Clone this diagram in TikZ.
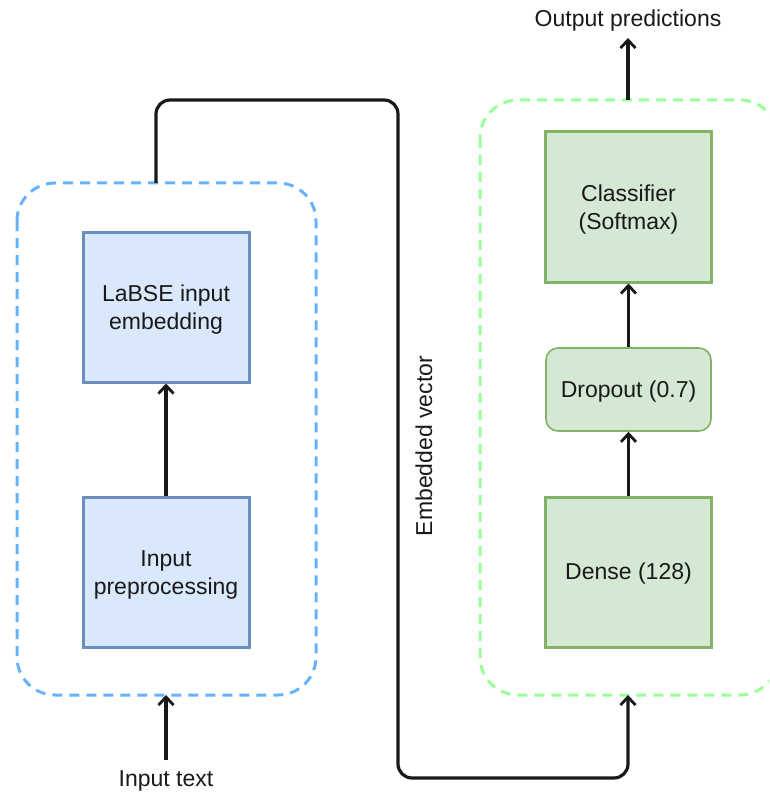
\documentclass[tikz,border=0pt]{standalone}
\usepackage{fontspec}
\setmainfont{Liberation Sans}
\usetikzlibrary{arrows.meta}
\definecolor{bluefill}{HTML}{DAE8FC}
\definecolor{bluestroke}{HTML}{6C8EBF}
\definecolor{greenfill}{HTML}{D5E8D4}
\definecolor{greenstroke}{HTML}{82B366}
\definecolor{bluedash}{HTML}{66B2FF}
\definecolor{greendash}{HTML}{99FF99}
\tikzset{
  txt/.style={font=\fontsize{23}{28}\selectfont, text=black!90, align=center, inner sep=0pt},
  bluebox/.style={draw=bluestroke, fill=bluefill, line width=3pt, minimum width=166pt, minimum height=150pt},
  greenbox/.style={draw=greenstroke, fill=greenfill, line width=3pt, minimum width=166pt, minimum height=150pt},
  container/.style={dash pattern=on 10pt off 7pt, line width=3pt, rounded corners=38pt},
  conn/.style={draw=black!90, line width=3.2pt, -{Straight Barb[length=8pt,width=15pt,line width=2.8pt]}},
  plain/.style={conn, rounded corners=14pt},
}
\begin{document}
\begin{tikzpicture}[x=1pt,y=-1pt]
\useasboundingbox (0,0) rectangle (769,794);
\begin{scope}
\clip (0,0) rectangle (769,794);
% containers
\draw[container, draw=bluedash] (17,183) rectangle (316,695);
\draw[container, draw=greendash] (480,100) rectangle (778,695);
\end{scope}
\coordinate (bluetop) at (156,183);
\coordinate (bluebot) at (166,695);
\coordinate (greentop) at (628,100);
\coordinate (greenbot) at (628,695);
\coordinate (outend) at (628,38);
\coordinate (inend) at (166,760);
% left nodes
\node[bluebox] (labse) at (166,307) {};
\node[txt] (labsetxt) at ([yshift=-3pt]labse.center) {LaBSE input\\embedding};
\node[bluebox] (prep) at (166,572) {};
\node[txt] (preptxt) at ([yshift=-3pt]prep.center) {Input\\preprocessing};
% right nodes
\node[greenbox] (clf) at (628.5,207) {};
\node[txt] (clftxt) at ([yshift=-3pt]clf.center) {Classifier\\(Softmax)};
\node[draw=greenstroke, fill=greenfill, line width=1.6pt, rounded corners=12pt, minimum width=165pt, minimum height=83pt] (drop) at (628.5,389.5) {};
\node[txt] (droptxt) at ([yshift=-2pt]drop.center) {Dropout (0.7)};
\node[greenbox] (dense) at (628.5,572) {};
\node[txt] (densetxt) at ([yshift=-2pt]dense.center) {Dense (128)};
% texts
\node[txt] (intext) at (166,781) {Input text};
\node[txt] (outpred) at (628,21) {Output predictions};
\node[txt, rotate=90] (emb) at (424,446) {Embedded vector};
% connectors
\draw[conn] (prep.north) -- (labse.south);
\draw[conn] (dense.north) -- (drop.south);
\draw[conn] (drop.north) -- (clf.south);
\draw[conn] (inend) -- (bluebot);
\draw[conn] (greentop) -- (outend);
\draw[plain] (bluetop) -- (156,100) -- (398,100) -- (398,778) -- (628,778) -- (greenbot);
\end{tikzpicture}
\end{document}
